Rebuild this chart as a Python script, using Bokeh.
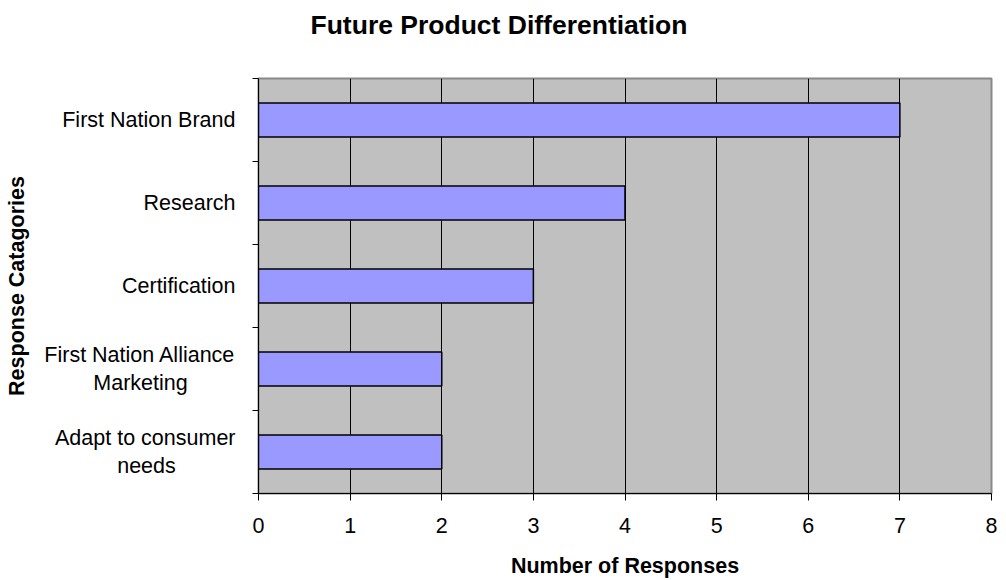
from bokeh.plotting import figure
from bokeh.models import Range1d, FixedTicker, ColumnDataSource, Title, LinearAxis
from bokeh.embed import file_html
from bokeh.resources import INLINE

# Survey responses, listed bottom-to-top as drawn
categories = [
    "Adapt to consumer\nneeds",
    "First Nation Alliance\nMarketing",
    "Certification",
    "Research",
    "First Nation Brand",
]
responses = [2, 2, 3, 4, 7]
x_ticks = [0, 1, 2, 3, 4, 5, 6, 7, 8]

# Wrapped labels: the short second line is padded with no-break spaces so that
# it sits centred under the first line while the block stays right-aligned.
line_pad = {"needs": 10, "Marketing": 8}


def centre_lines(label):
    lines = label.split("\n")
    return "\n".join(ln + "\u00a0" * line_pad.get(ln, 0) for ln in lines)


centers = [i + 0.5 for i in range(len(categories))]
boundaries = list(range(len(categories) + 1))

src = ColumnDataSource(dict(y=centers, right=responses))

p = figure(
    width=1006, height=580,
    x_range=Range1d(0, 8), y_range=Range1d(0, len(categories)),
    output_backend="svg", toolbar_location=None,
    min_border_left=258, min_border_right=15,
    min_border_top=78, min_border_bottom=86,
)
p.background_fill_color = "#C0C0C0"
p.border_fill_color = "white"
p.outline_line_color = "#888888"
p.outline_line_width = 2

# Blank band between the title and the plot area: an axis whose only
# (invisible) tick reserves the vertical space.
gap = LinearAxis(ticker=FixedTicker(ticks=[0]), major_tick_out=30, major_tick_in=0,
                 major_tick_line_color=None, minor_tick_line_color=None,
                 axis_line_color=None, major_label_text_color=None,
                 major_label_text_font_size="0px", major_label_standoff=0,
                 major_label_overrides={0: ""})
p.add_layout(gap, "above")

title = Title(text="Future Product Differentiation", align="left", offset=52,
              vertical_align="top", standoff=13,
              text_font="Liberation Sans", text_font_size="26.5px",
              text_font_style="bold", text_color="black")
p.add_layout(title, "above")

p.hbar(y="y", left=0, right="right", height=0.41, source=src,
       fill_color="#9999FF", line_color="black", line_width=1.5)

# x axis (the one below the plot area)
xa = p.below[0]
xa.ticker = FixedTicker(ticks=x_ticks)
xa.axis_label = "Number of Responses"
xa.axis_label_text_font = "Liberation Sans"
xa.axis_label_text_font_size = "21.5px"
xa.axis_label_text_font_style = "bold"
xa.axis_label_text_color = "black"
xa.axis_label_standoff = 18
xa.major_label_text_font = "Liberation Sans"
xa.major_label_text_font_size = "21.5px"
xa.major_label_text_color = "black"
xa.major_label_standoff = 17
xa.major_tick_out = 7
xa.major_tick_in = 0
xa.minor_tick_line_color = None
xa.axis_line_color = "black"
xa.major_tick_line_color = "black"

# y axis: labels centred in each band, ticks on band boundaries
ya = p.left[0]
ya.ticker = FixedTicker(ticks=centers, minor_ticks=boundaries)
ya.major_label_overrides = {c: centre_lines(lab) for c, lab in zip(centers, categories)}
ya.major_tick_line_color = None
ya.minor_tick_line_color = "black"
ya.minor_tick_out = 6
ya.minor_tick_in = 0
ya.major_label_standoff = 17
ya.major_label_text_font = "Liberation Sans"
ya.major_label_text_font_size = "21.5px"
ya.major_label_text_color = "black"
ya.major_label_text_line_height = 1.17
ya.axis_label = "Response Catagories"
ya.axis_label_text_font = "Liberation Sans"
ya.axis_label_text_font_size = "21.5px"
ya.axis_label_text_font_style = "bold"
ya.axis_label_text_color = "black"
ya.axis_label_standoff = 12
ya.axis_line_color = "black"

p.xgrid.grid_line_color = "black"
p.xgrid.grid_line_width = 1
p.ygrid.grid_line_color = None

open("out.html", "w").write(file_html(p, INLINE))
